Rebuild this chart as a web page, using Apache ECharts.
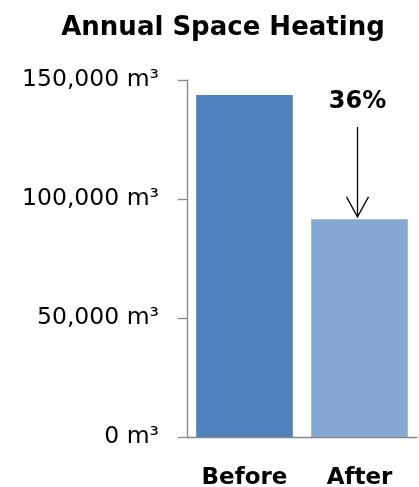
<!DOCTYPE html>
<html><head><meta charset="utf-8">
<script src="https://cdn.jsdelivr.net/npm/echarts@6/dist/echarts.min.js"></script>
<style>html,body{margin:0;padding:0;background:#fff}#c{width:419px;height:487px}</style>
</head><body><div id="c"></div>
<script>
const categories = ['Before', 'After'];
const heatingM3 = [143700, 91500];
const barColors = ['#4F81BD', '#87A7D3'];
const changeLabel = '36%';
const arrowStartM3 = 130300;
const arrowEndM3 = 92500;
const labelAnchorM3 = 140800;
const titleText = 'Annual Space Heating';

const FONT = 'DejaVu Sans';
const AXIS = '#868686';
const chart = echarts.init(document.getElementById('c'), null, {renderer: 'canvas'});
chart.setOption({
  animation: false,
  grid: {left: 187, right: 2, top: 80, bottom: 50, containLabel: false, outerBoundsMode: 'none'},
  xAxis: {
    type: 'category', data: categories,
    axisLine: {lineStyle: {color: AXIS, width: 1.3}},
    axisTick: {length: 9, lineStyle: {color: AXIS, width: 1.3}},
    axisLabel: {margin: 30, fontFamily: FONT, fontSize: 23, fontWeight: 'bold', color: '#000'}
  },
  yAxis: {
    type: 'value', min: 0, max: 150000, interval: 50000,
    splitLine: {show: false},
    axisLine: {show: true, lineStyle: {color: AXIS, width: 1.3}},
    axisTick: {show: true, length: 9, lineStyle: {color: AXIS, width: 1.3}},
    axisLabel: {margin: 28, fontFamily: FONT, fontSize: 23.5, color: '#000',
      formatter: v => v.toLocaleString('en-US') + ' m³'}
  },
  series: [{
    type: 'bar', barCategoryGap: '16%',
    data: heatingM3.map((v, i) => ({value: v, itemStyle: {color: barColors[i]}}))
  }]
});

const idx = categories.indexOf('After');
const pStart = chart.convertToPixel({gridIndex: 0}, [idx, arrowStartM3]);
const pEnd = chart.convertToPixel({gridIndex: 0}, [idx, arrowEndM3]);
const pLabel = chart.convertToPixel({gridIndex: 0}, [idx, labelAnchorM3]);
chart.setOption({
  graphic: [
    {type: 'text', x: 223, y: 28, style: {text: titleText, fontFamily: FONT, fontSize: 26, fontWeight: 'bold', fill: '#000', align: 'center', verticalAlign: 'middle'}},
    {type: 'text', x: pLabel[0] - 2, y: pLabel[1], style: {text: changeLabel, fontFamily: FONT, fontSize: 24, fontWeight: 'bold', fill: '#000', align: 'center', verticalAlign: 'middle'}},
    {type: 'line', shape: {x1: pStart[0] - 2, y1: pStart[1], x2: pEnd[0] - 2, y2: pEnd[1]}, style: {stroke: '#000', lineWidth: 1.3}},
    {type: 'polyline', shape: {points: [[pEnd[0] - 13, pEnd[1] - 20], [pEnd[0] - 2, pEnd[1]], [pEnd[0] + 9, pEnd[1] - 20]]}, style: {stroke: '#000', lineWidth: 1.3, fill: null}}
  ]
});
</script>
</body></html>
